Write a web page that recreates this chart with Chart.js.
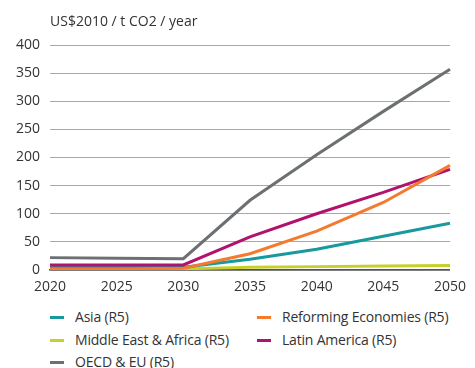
<!DOCTYPE html>
<html>
<head>
<meta charset="utf-8">
<script src="https://cdn.jsdelivr.net/npm/chart.js@4"></script>
<style>
  body { margin: 0; background: #fff; }
  #wrap { position: relative; width: 475px; height: 368px; font-family: "Open Sans", sans-serif; color: #333; }
  #chart { position: absolute; left: 0; top: 0; }
  .lg { position: absolute; font-size: 14px; line-height: 16px; white-space: nowrap; letter-spacing: -0.2px; }
  .lg i { position: absolute; left: -25px; top: 7px; width: 14px; height: 3px; }
</style>
</head>
<body>
<div id="wrap">
  <canvas id="chart" width="475" height="300"></canvas>
  <div id="legend"></div>
</div>
<script>
const years = ['2020', '2025', '2030', '2035', '2040', '2045', '2050'];
const yTicks = [0, 50, 100, 150, 200, 250, 300, 350, 400];

const seriesNames = ['Asia (R5)', 'Reforming Economies (R5)', 'Middle East & Africa (R5)', 'Latin America (R5)', 'OECD & EU (R5)'];
const asia = [5, 5, 5, 19, 37, 60, 83];
const reforming = [2, 2, 3, 29, 69, 120, 186];
const mea = [1, 1, 2, 5, 6, 7, 8];
const latam = [9, 9, 9, 59, 100, 138, 179];
const oecd = [22, 21, 20, 124, 205, 282, 357];
const colors = ['#17999e', '#f47a2e', '#c5d02b', '#b2126f', '#6d7072'];

const seriesData = [asia, reforming, mea, latam, oecd];
// draw order: grey at back, orange/magenta on top
const drawOrder = [4, 2, 0, 3, 1];

const titlePlugin = {
    id: 'unitTitle',
    afterDraw(chart) {
        const c = chart.ctx;
        c.save();
        c.font = '14px "Open Sans", sans-serif';
        c.fillStyle = '#333';
        c.textBaseline = 'middle';
        c.fillText('US$2010 / t CO2 / year', chart.chartArea.left, 22);
        c.restore();
    }
};

const chart = new Chart(document.getElementById('chart'), {
    type: 'line',
    data: {
        labels: years,
        datasets: drawOrder.map(i => ({
            label: seriesNames[i],
            data: seriesData[i],
            borderColor: colors[i],
            backgroundColor: colors[i],
            borderWidth: 3,
            pointRadius: 0,
            tension: 0,
            order: drawOrder.length - drawOrder.indexOf(i)
        }))
    },
    options: {
        responsive: false,
        animation: false,
        layout: { padding: { top: 45, right: 18, left: 0, bottom: 0 } },
        plugins: { legend: { display: false }, tooltip: { enabled: false } },
        scales: {
            x: {
                grid: { display: false, drawTicks: false },
                border: { display: true, color: '#555', width: 1.5 },
                ticks: { padding: 9, color: '#333', font: { family: 'Open Sans', size: 14 }, maxRotation: 0 },
                afterFit(s) { s.height = 30; }
            },
            y: {
                min: 0, max: 400,
                afterBuildTicks(s) { s.ticks = yTicks.map(v => ({ value: v })); },
                grid: { color: '#a8a8a8', lineWidth: 1, drawTicks: false },
                border: { display: false },
                ticks: { padding: 10, color: '#333', font: { family: 'Open Sans', size: 14 } },
                afterFit(s) { s.width = 50; }
            }
        }
    },
    plugins: [titlePlugin]
});

// html legend, two columns
const legendPos = [[75, 309], [282, 309], [75, 332], [282, 332], [75, 354]];
const legend = document.getElementById('legend');
seriesNames.forEach((name, i) => {
    const d = document.createElement('div');
    d.className = 'lg';
    d.style.left = legendPos[i][0] + 'px';
    d.style.top = legendPos[i][1] + 'px';
    d.innerHTML = '<i style="background:' + colors[i] + '"></i>';
    d.appendChild(document.createTextNode(name));
    legend.appendChild(d);
});
</script>
</body>
</html>
